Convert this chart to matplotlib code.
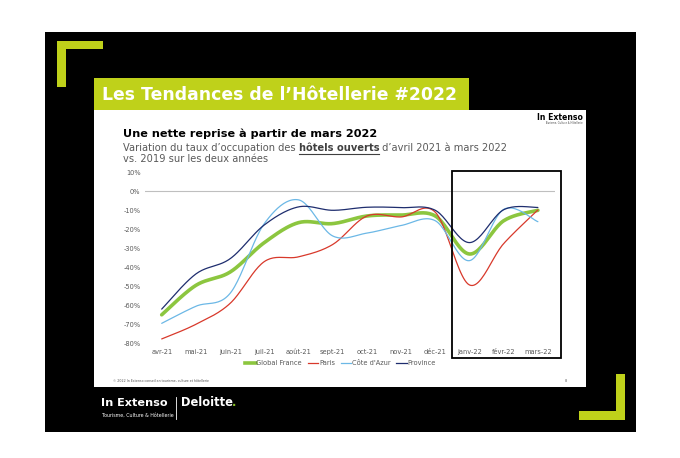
import numpy as np
import matplotlib
matplotlib.use("Agg")
import matplotlib.pyplot as plt
from matplotlib.patches import Rectangle
from matplotlib.lines import Line2D

# ---------------- data ----------------
months = ['avr-21', 'mai-21', 'juin-21', 'juil-21', 'août-21', 'sept-21',
          'oct-21', 'nov-21', 'déc-21', 'janv-22', 'févr-22', 'mars-22']
global_france = [-65, -49.5, -42.5, -27, -16.5, -17, -13, -12.5, -13, -33, -15.5, -10]
paris = [-77.7, -70, -59, -37, -34.5, -28, -13, -13.5, -11, -49.3, -27.5, -9.8]
cote_azur = [-69.5, -60.5, -53.7, -17, -4.5, -23.5, -22, -18, -15.5, -36.5, -9.5, -16]
province = [-62, -43.5, -35.5, -17.7, -8.2, -10, -8.4, -8.6, -10, -27, -9.7, -8.5]
series_names = ['Global France', 'Paris', "Côte d'Azur", 'Province']
y_ticks = [10, 0, -10, -20, -30, -40, -50, -60, -70, -80]
highlight_from = 'janv-22'

W, H = 680, 458
fig = plt.figure(figsize=(W / 100, H / 100), dpi=100)
fig.patch.set_facecolor('white')

def fx(px):
    return px / W

def fy(py):
    return 1 - py / H

def prect(x0, y0, x1, y1, **kw):
    fig.add_artist(Rectangle((fx(x0), fy(y1)), (x1 - x0) / W, (y1 - y0) / H,
                             transform=fig.transFigure, zorder=-5, **kw))

LIME = '#BFD11A'
# black slide background
prect(45, 32, 636, 432, facecolor='black', edgecolor='none')
# brackets
prect(57, 41, 103, 49, facecolor=LIME, edgecolor='none')
prect(57, 41, 66, 87, facecolor=LIME, edgecolor='none')
prect(616, 374, 625, 420, facecolor=LIME, edgecolor='none')
prect(579, 411, 625, 420, facecolor=LIME, edgecolor='none')
# white slide
prect(94, 110, 586, 387, facecolor='white', edgecolor='none')
# banner
prect(94, 78, 469, 110, facecolor=LIME, edgecolor='none')
fig.text(fx(102), fy(95), 'Les Tendances de l’Hôtellerie #2022', color='white',
         fontsize=12.45, fontweight='bold', va='center', ha='left')

# top right logo
fig.text(fx(583), fy(117), 'In Extenso', color='black', fontsize=5.6,
         fontweight='bold', ha='right', va='center')
fig.text(fx(583), fy(122.5), 'Tourisme, Culture & Hôtellerie', color='#444444',
         fontsize=1.8, ha='right', va='center')

# titles
fig.text(fx(123), fy(134), 'Une nette reprise à partir de mars 2022', color='black',
         fontsize=8.1, fontweight='bold', va='center', ha='left')

GRAY = '#595959'
sub_size = 7.1
t1 = fig.text(fx(123), fy(148), 'Variation du taux d’occupation des ', color=GRAY,
              fontsize=sub_size, va='center', ha='left')
fig.canvas.draw()
r = fig.canvas.get_renderer()
bb1 = t1.get_window_extent(r)
t2 = fig.text(bb1.x1 / W, fy(148), 'hôtels ouverts', color='#404040',
              fontsize=sub_size, fontweight='bold', va='center', ha='left')
fig.canvas.draw()
bb2 = t2.get_window_extent(r)
fig.add_artist(Line2D([bb2.x0 / W, bb2.x1 / W], [fy(153.5), fy(153.5)],
                      transform=fig.transFigure, color='#404040', lw=0.8))
fig.text(bb2.x1 / W, fy(148), ' d’avril 2021 à mars 2022', color=GRAY,
         fontsize=sub_size, va='center', ha='left')
fig.text(fx(123), fy(159), 'vs. 2019 sur les deux années', color=GRAY,
         fontsize=sub_size, va='center', ha='left')

# footer
fig.text(fx(113), fy(381), '© 2022 In Extenso conseil en tourisme, culture et hôtellerie',
         color='#555555', fontsize=2.3, va='center', ha='left')
fig.text(fx(566), fy(381), '8', color='#555555', fontsize=2.5, va='center', ha='center')

# bottom logos
fig.text(fx(101), fy(403), 'In Extenso', color='white', fontsize=8.1,
         fontweight='bold', va='center', ha='left')
fig.text(fx(102), fy(415), 'Tourisme, Culture & Hôtellerie', color='white',
         fontsize=3.4, va='center', ha='left')
fig.add_artist(Line2D([fx(176), fx(176)], [fy(397), fy(419)],
                      transform=fig.transFigure, color='white', lw=0.6))
td = fig.text(fx(181), fy(403), 'Deloitte', color='white', fontsize=8.3,
              fontweight='bold', va='center', ha='left')
fig.canvas.draw()
bbd = td.get_window_extent(r)
fig.text(bbd.x1 / W - 0.001, fy(403), '.', color='#86BC25', fontsize=8.3,
         fontweight='bold', va='center', ha='left')

# ---------------- chart ----------------
ax_l, ax_r, ax_t, ax_b = 144.6, 555.0, 172.3, 343.3
ax = fig.add_axes([fx(ax_l), fy(ax_b), (ax_r - ax_l) / W, (ax_b - ax_t) / H])
ax.set_facecolor('none')
for s in ax.spines.values():
    s.set_visible(False)

def smooth(xv, yv, n=24):
    pts = np.column_stack([xv, yv]).astype(float)
    out = [pts[0]]
    t = np.linspace(0, 1, n)[1:, None]
    for i in range(len(pts) - 1):
        p0 = pts[i - 1] if i > 0 else pts[i]
        p1, p2 = pts[i], pts[i + 1]
        p3 = pts[i + 2] if i + 2 < len(pts) else pts[i + 1]
        c1 = p1 + (p2 - p0) / 6
        c2 = p2 - (p3 - p1) / 6
        seg = (1 - t) ** 3 * p1 + 3 * (1 - t) ** 2 * t * c1 + 3 * (1 - t) * t ** 2 * c2 + t ** 3 * p2
        out.extend(seg)
    return np.array(out)

x = np.arange(len(months))
styles = [
    (global_france, '#8CC63F', 2.6),
    (paris, '#D8392B', 0.9),
    (cote_azur, '#6CB8E6', 0.9),
    (province, '#1E2D6E', 0.9),
]
handles = []
for (vals, col, lw), name in zip(styles, series_names):
    c = smooth(x, vals)
    ln, = ax.plot(c[:, 0], c[:, 1], color=col, lw=lw, label=name,
                  solid_capstyle='round')
    handles.append(ln)

ax.axhline(0, color='#BFBFBF', lw=0.8, zorder=0)
ax.set_xlim(-0.5, len(months) - 0.5)
ax.set_ylim(-80, 10)
ax.set_xticks(x)
ax.set_xticklabels(months)
ax.set_yticks(y_ticks)
ax.set_yticklabels([f'{v}%' for v in y_ticks])
ax.tick_params(axis='both', length=0, labelsize=4.8, labelcolor=GRAY, pad=3)
ax.tick_params(axis='x', pad=4)

# highlight box around the 2022 months
hx = months.index(highlight_from) - 0.5
ax.add_patch(Rectangle((hx, -87.7), len(months) - 0.5 + 0.18 - hx, 98.4,
                       fill=False, edgecolor='black', lw=1.3, clip_on=False, zorder=5))

leg_handles = [Line2D([0], [0], color=h.get_color(), lw=h.get_linewidth()) for h in handles]
fig.legend(leg_handles, series_names, loc='center', bbox_to_anchor=(fx(340.5), fy(363)),
           ncol=4, frameon=False, fontsize=4.8, labelcolor=GRAY, handlelength=1.6,
           handletextpad=0.1, columnspacing=0.85, borderaxespad=0, borderpad=0)

fig.savefig('out.png', dpi=100, facecolor='white')
